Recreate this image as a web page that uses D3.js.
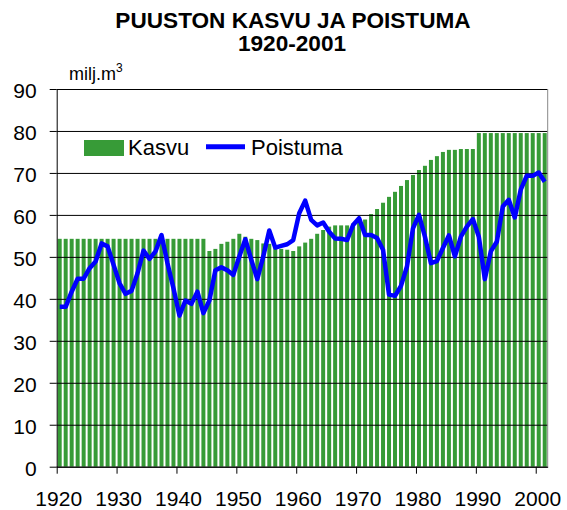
<!DOCTYPE html>
<html>
<head>
<meta charset="utf-8">
<script src="https://cdn.jsdelivr.net/npm/d3@7/dist/d3.min.js"></script>
<style>
  body { margin: 0; background: #fff; }
  svg { display: block; font-family: "Liberation Sans", Arial, sans-serif; }
</style>
</head>
<body>
<svg id="chart" width="567" height="510"></svg>
<script>
// years 1920-2001 (one category per year)
var years = [
  1920, 1921, 1922, 1923, 1924, 1925, 1926, 1927, 1928, 1929,
  1930, 1931, 1932, 1933, 1934, 1935, 1936, 1937, 1938, 1939,
  1940, 1941, 1942, 1943, 1944, 1945, 1946, 1947, 1948, 1949,
  1950, 1951, 1952, 1953, 1954, 1955, 1956, 1957, 1958, 1959,
  1960, 1961, 1962, 1963, 1964, 1965, 1966, 1967, 1968, 1969,
  1970, 1971, 1972, 1973, 1974, 1975, 1976, 1977, 1978, 1979,
  1980, 1981, 1982, 1983, 1984, 1985, 1986, 1987, 1988, 1989,
  1990, 1991, 1992, 1993, 1994, 1995, 1996, 1997, 1998, 1999,
  2000, 2001
];

// growth (bars), milj. m3
var kasvu = [
  54.3, 54.3, 54.3, 54.3, 54.3, 54.3, 54.3, 54.3, 54.3, 54.3,
  54.3, 54.3, 54.3, 54.3, 54.3, 54.3, 54.3, 54.3, 54.3, 54.3,
  54.3, 54.3, 54.3, 54.3, 54.3, 51.4, 51.9, 53.1, 53.6, 54.3,
  55.5, 54.8, 54.3, 54.0, 53.2, 53.1, 52.1, 51.9, 51.7, 51.4,
  52.5, 53.4, 54.3, 55.5, 56.4, 57.2, 57.5, 57.5, 57.5, 57.9,
  58.8, 58.9, 60.2, 61.4, 62.9, 64.3, 65.5, 66.9, 68.3, 69.5,
  70.7, 71.7, 73.1, 74.0, 75.0, 75.5, 75.5, 75.7, 75.7, 75.7,
  79.5, 79.5, 79.5, 79.5, 79.5, 79.5, 79.5, 79.5, 79.5, 79.5,
  79.5, 79.5
];

// drain (line), milj. m3
var poistuma = [
  38.1, 38.1, 41.7, 44.8, 44.8, 47.3, 48.9, 53.2, 52.5, 48.1,
  43.7, 41.2, 41.9, 46.1, 51.5, 49.5, 51.3, 55.2, 48.5, 42.5,
  36.0, 39.6, 38.8, 41.7, 36.6, 39.6, 46.8, 47.5, 46.8, 45.7,
  50.1, 54.2, 49.3, 44.7, 50.1, 56.3, 52.2, 52.6, 53.0, 54.0,
  60.4, 63.4, 58.8, 57.5, 58.2, 56.0, 54.4, 54.3, 54.0, 57.6,
  59.2, 55.2, 55.2, 54.5, 51.7, 41.0, 40.7, 43.1, 47.7, 56.8,
  60.0, 54.8, 48.5, 49.0, 52.1, 55.1, 50.1, 54.8, 57.2, 59.0,
  54.8, 44.7, 51.3, 53.6, 62.0, 63.6, 59.4, 66.0, 69.3, 69.3,
  70.1, 67.9
];

var yTicks = [0, 10, 20, 30, 40, 50, 60, 70, 80, 90];
var xTicks = [1920, 1930, 1940, 1950, 1960, 1970, 1980, 1990, 2000];

var svg = d3.select('#chart');

var plot = {l: 56.7, r: 547.7, t: 89, b: 466.7};
var green = '#379b37';
var blue = '#0000ff';

var data = years.map(function(yr, i) {
    return {year: yr, kasvu: kasvu[i], poistuma: poistuma[i]};
});

// scales
var x = d3.scaleBand()
    .domain(years)
    .range([plot.l, plot.r])
    .paddingInner(1 / 3)
    .paddingOuter(1 / 6);

// continuous year scale used only for the category-boundary ticks
var xTime = d3.scaleLinear()
    .domain([1920, 2002])
    .range([plot.l, plot.r]);

var y = d3.scaleLinear()
    .domain([0, 90])
    .range([plot.b, plot.t]);

// title (two lines in one text element)
var title = svg.append('text')
    .attr('text-anchor', 'middle')
    .style('font-size', '22.6px')
    .style('font-weight', 'bold');
title.append('tspan')
    .attr('x', 293)
    .attr('y', 28)
    .text('PUUSTON KASVU JA POISTUMA');
title.append('tspan')
    .attr('x', 292)
    .attr('y', 50.5)
    .text('1920-2001');

// unit label
var unit = svg.append('text')
    .attr('x', 69)
    .attr('y', 80)
    .style('font-size', '18px');
unit.append('tspan').text('milj.m');
unit.append('tspan')
    .attr('dy', -8)
    .style('font-size', '12px')
    .text('3');

// bars
svg.append('g')
    .selectAll('rect')
    .data(data)
    .enter()
    .append('rect')
    .attr('x', function(d) { return x(d.year); })
    .attr('y', function(d) { return y(d.kasvu); })
    .attr('width', x.bandwidth())
    .attr('height', function(d) { return plot.b - y(d.kasvu); })
    .attr('fill', green);

// gridlines (drawn over the bars)
var grid = svg.append('g')
    .attr('transform', 'translate(' + plot.l + ',0)')
    .call(d3.axisLeft(y)
        .tickValues(yTicks)
        .tickSize(-(plot.r - plot.l))
        .tickFormat(''));
grid.select('.domain').remove();
grid.selectAll('line')
    .attr('stroke', '#000')
    .attr('stroke-width', 1);

// right border
svg.append('line')
    .attr('x1', plot.r).attr('x2', plot.r)
    .attr('y1', plot.t).attr('y2', plot.b)
    .attr('stroke', '#888')
    .attr('stroke-width', 1);

// y axis
var yAxis = svg.append('g')
    .attr('transform', 'translate(' + plot.l + ',0)')
    .call(d3.axisLeft(y)
        .tickValues(yTicks)
        .tickSize(7)
        .tickPadding(13)
        .tickSizeOuter(0));
yAxis.selectAll('text')
    .attr('dy', '0.4em')
    .style('font-size', '21px')
    .attr('fill', '#000')
    .style('font-family', '"Liberation Sans", Arial, sans-serif');
yAxis.selectAll('line, path').attr('stroke', '#000');

// x axis
var xAxis = svg.append('g')
    .attr('transform', 'translate(0,' + plot.b + ')')
    .call(d3.axisBottom(xTime)
        .tickValues(xTicks)
        .tickSize(7)
        .tickSizeOuter(0)
        .tickFormat(d3.format('d')));
xAxis.selectAll('text')
    .attr('y', 39.5)
    .attr('dy', null)
    .attr('x', 1.5)
    .style('font-size', '21px')
    .attr('fill', '#000')
    .style('font-family', '"Liberation Sans", Arial, sans-serif');
xAxis.selectAll('line, path').attr('stroke', '#000');

// poistuma line
var line = d3.line()
    .x(function(d) { return x(d.year) + x.bandwidth() / 2; })
    .y(function(d) { return y(d.poistuma); });

svg.append('path')
    .datum(data)
    .attr('d', line)
    .attr('fill', 'none')
    .attr('stroke', blue)
    .attr('stroke-width', 4.5)
    .attr('stroke-linejoin', 'round');

// legend
var legend = svg.append('g');
legend.append('rect')
    .attr('x', 84).attr('y', 140)
    .attr('width', 40).attr('height', 16)
    .attr('fill', green);
legend.append('text')
    .attr('x', 128).attr('y', 155)
    .style('font-size', '22px')
    .text('Kasvu');
legend.append('line')
    .attr('x1', 206).attr('x2', 245)
    .attr('y1', 146.7).attr('y2', 146.7)
    .attr('stroke', blue)
    .attr('stroke-width', 5);
legend.append('text')
    .attr('x', 251).attr('y', 155)
    .style('font-size', '22px')
    .text('Poistuma');
</script>
</body>
</html>
